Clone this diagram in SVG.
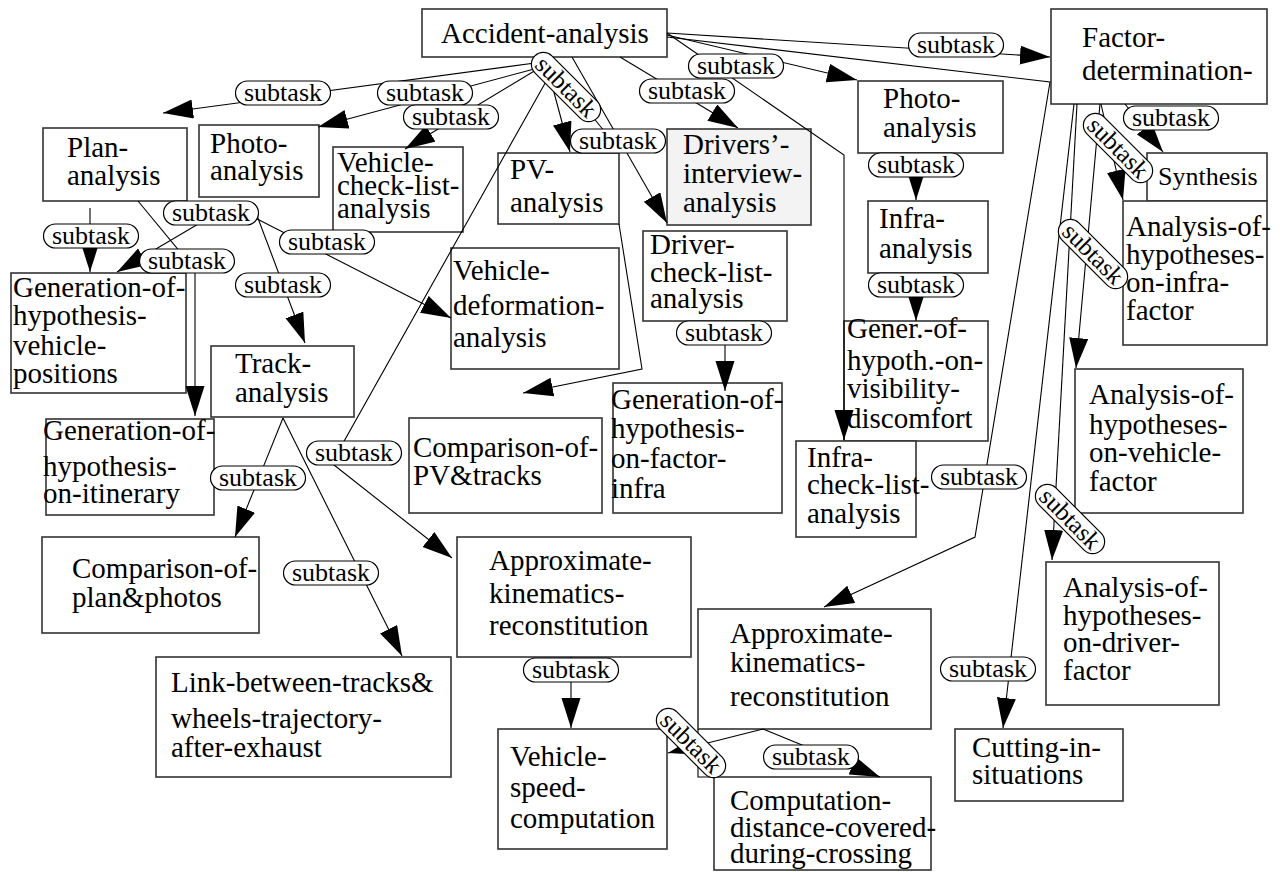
<svg xmlns="http://www.w3.org/2000/svg" width="1282" height="872" viewBox="0 0 1282 872">
<style>
.box{fill:#fff;stroke:#333;stroke-width:1.6}
.gray{fill:#f3f3f3}
.t{font-family:"Liberation Serif","Times New Roman",serif;font-size:29px;fill:#000}
.ts{font-size:26px}
.e{fill:none;stroke:#000;stroke-width:1.1;marker-end:url(#ah)}
.ln{fill:none;stroke:#000;stroke-width:1.1}
.pill{fill:#fff;stroke:#000;stroke-width:1.2}
.lt{font-family:"Liberation Serif","Times New Roman",serif;font-size:26px;text-anchor:middle;fill:#000}
.lr{font-size:25px}
</style>
<defs>
<marker id="ah" markerUnits="userSpaceOnUse" markerWidth="31" markerHeight="20" refX="30" refY="9.5" orient="auto">
<path d="M0,0 L30,9.5 L0,19 z" fill="#000"/>
</marker>
</defs>
<rect width="1282" height="872" fill="#fff"/>

<g id="n_accident"><rect class="box" x="422" y="9" width="245" height="48"/><text class="t" x="441" y="43">Accident-analysis</text></g>
<g id="n_factor"><rect class="box" x="1051" y="9" width="216" height="95"/><text class="t"><tspan x="1082" y="47">Factor-</tspan><tspan x="1082" y="80">determination-</tspan></text></g>
<g id="n_plan"><rect class="box" x="43" y="128" width="144" height="73"/><text class="t"><tspan x="67" y="157">Plan-</tspan><tspan x="67" y="185">analysis</tspan></text></g>
<g id="n_photo1"><rect class="box" x="199" y="125" width="120" height="72"/><text class="t"><tspan x="210" y="153">Photo-</tspan><tspan x="210" y="180">analysis</tspan></text></g>
<g id="n_vcl"><rect class="box" x="333" y="147" width="130" height="85"/><text class="t"><tspan x="337" y="172">Vehicle-</tspan><tspan x="337" y="195">check-list-</tspan><tspan x="337" y="218">analysis</tspan></text></g>
<g id="n_pv"><rect class="box" x="498" y="153" width="121" height="71"/><text class="t"><tspan x="510" y="179">PV-</tspan><tspan x="510" y="212">analysis</tspan></text></g>
<g id="n_drivers"><rect class="box gray" x="667" y="129" width="144" height="96"/><text class="t"><tspan x="683" y="154">Drivers’-</tspan><tspan x="683" y="183">interview-</tspan><tspan x="683" y="212">analysis</tspan></text></g>
<g id="n_dcl"><rect class="box" x="643" y="231" width="144" height="90"/><text class="t"><tspan x="650" y="254">Driver-</tspan><tspan x="650" y="282">check-list-</tspan><tspan x="650" y="308">analysis</tspan></text></g>
<g id="n_photo2"><rect class="box" x="858" y="81" width="145" height="72"/><text class="t"><tspan x="883" y="108">Photo-</tspan><tspan x="883" y="137">analysis</tspan></text></g>
<g id="n_infra"><rect class="box" x="868" y="201" width="120" height="72"/><text class="t"><tspan x="879" y="228">Infra-</tspan><tspan x="879" y="258">analysis</tspan></text></g>
<g id="n_gener"><rect class="box" x="844" y="321" width="144" height="120"/><text class="t"><tspan x="847" y="338">Gener.-of-</tspan><tspan x="847" y="370">hypoth.-on-</tspan><tspan x="847" y="398">visibility-</tspan><tspan x="847" y="428">discomfort</tspan></text></g>
<g id="n_icl"><rect class="box" x="796" y="441" width="120" height="96"/><text class="t"><tspan x="807" y="467">Infra-</tspan><tspan x="807" y="494">check-list-</tspan><tspan x="807" y="523">analysis</tspan></text></g>
<g id="n_synth"><rect class="box" x="1147" y="153" width="120" height="48"/><text class="t ts" x="1158" y="185">Synthesis</text></g>
<g id="n_ahinfra"><rect class="box" x="1123" y="201" width="144" height="144"/><text class="t"><tspan x="1126" y="236">Analysis-of-</tspan><tspan x="1126" y="264">hypotheses-</tspan><tspan x="1126" y="292">on-infra-</tspan><tspan x="1126" y="320">factor</tspan></text></g>
<g id="n_ahveh"><rect class="box" x="1075" y="369" width="168" height="144"/><text class="t"><tspan x="1089" y="404">Analysis-of-</tspan><tspan x="1089" y="434">hypotheses-</tspan><tspan x="1089" y="462">on-vehicle-</tspan><tspan x="1089" y="491">factor</tspan></text></g>
<g id="n_ahdrv"><rect class="box" x="1046" y="562" width="173" height="143"/><text class="t"><tspan x="1063" y="597">Analysis-of-</tspan><tspan x="1063" y="625">hypotheses-</tspan><tspan x="1063" y="652">on-driver-</tspan><tspan x="1063" y="680">factor</tspan></text></g>
<g id="n_cut"><rect class="box" x="955" y="729" width="168" height="72"/><text class="t"><tspan x="972" y="757">Cutting-in-</tspan><tspan x="972" y="784">situations</tspan></text></g>
<g id="n_akr2"><rect class="box" x="698" y="609" width="233" height="120"/><text class="t"><tspan x="730" y="643">Approximate-</tspan><tspan x="730" y="672">kinematics-</tspan><tspan x="730" y="706">reconstitution</tspan></text></g>
<g id="n_comp"><rect class="box" x="714" y="777" width="217" height="93"/><path class="ln" d="M698,729 V777 H714" stroke="#333" stroke-width="1.6"/><text class="t"><tspan x="730" y="810">Computation-</tspan><tspan x="730" y="837">distance-covered-</tspan><tspan x="730" y="863">during-crossing</tspan></text></g>
<g id="n_vsc"><rect class="box" x="498" y="729" width="169" height="120"/><text class="t"><tspan x="510" y="766">Vehicle-</tspan><tspan x="510" y="797">speed-</tspan><tspan x="510" y="828">computation</tspan></text></g>
<g id="n_akr1"><rect class="box" x="457" y="537" width="234" height="120"/><text class="t"><tspan x="489" y="570">Approximate-</tspan><tspan x="489" y="603">kinematics-</tspan><tspan x="489" y="635">reconstitution</tspan></text></g>
<g id="n_cmppv"><rect class="box" x="409" y="418" width="193" height="95"/><text class="t"><tspan x="413" y="457">Comparison-of-</tspan><tspan x="413" y="485">PV&amp;tracks</tspan></text></g>
<g id="n_gfi"><rect class="box" x="613" y="383" width="169" height="130"/><text class="t"><tspan x="611" y="409">Generation-of-</tspan><tspan x="611" y="438">hypothesis-</tspan><tspan x="611" y="468">on-factor-</tspan><tspan x="611" y="498">infra</tspan></text></g>
<g id="n_vda"><rect class="box" x="451" y="248" width="168" height="121"/><text class="t"><tspan x="453" y="280">Vehicle-</tspan><tspan x="453" y="315">deformation-</tspan><tspan x="453" y="347">analysis</tspan></text></g>
<g id="n_gvp"><rect class="box" x="11" y="273" width="175" height="120"/><text class="t"><tspan x="13" y="297">Generation-of-</tspan><tspan x="13" y="325">hypothesis-</tspan><tspan x="13" y="355">vehicle-</tspan><tspan x="13" y="383">positions</tspan></text></g>
<g id="n_gitin"><rect class="box" x="46" y="419" width="168" height="96"/><text class="t"><tspan x="43" y="440">Generation-of-</tspan><tspan x="43" y="476">hypothesis-</tspan><tspan x="43" y="503">on-itinerary</tspan></text></g>
<g id="n_track"><rect class="box" x="211" y="346" width="143" height="71"/><text class="t"><tspan x="235" y="373">Track-</tspan><tspan x="235" y="402">analysis</tspan></text></g>
<g id="n_cmpplan"><rect class="box" x="42" y="537" width="217" height="96"/><text class="t"><tspan x="72" y="578">Comparison-of-</tspan><tspan x="72" y="607">plan&amp;photos</tspan></text></g>
<g id="n_link"><rect class="box" x="156" y="657" width="295" height="120"/><text class="t"><tspan x="171" y="692">Link-between-tracks&amp;</tspan><tspan x="171" y="728">wheels-trajectory-</tspan><tspan x="171" y="757">after-exhaust</tspan></text></g>

<g id="connectors">
<path class="e" d="M535,63 L163,113"/>
<path class="e" d="M538,68 L318,127"/>
<path class="e" d="M536,70 L405,149"/>
<path class="e" d="M548,70 L570,152"/>
<path class="e" d="M548,78 L338,452 L334,465 L452,558"/>
<path class="e" d="M572,57 L667,223"/>
<path class="e" d="M544,57 L605,132 M619,224 L642,369 L523,393"/>
<path class="e" d="M620,57 L738,128"/>
<path class="e" d="M667,33 L844,155 L844,440"/>
<path class="e" d="M667,35 L857,80"/>
<path class="e" d="M667,33 L1050,57"/>
<path class="e" d="M667,37 L1050,82 L975,537 L824,607"/>
<path class="e" d="M1125,104 L1163,152"/>
<path class="e" d="M1101,104 L1123,200"/>
<path class="e" d="M1100,104 L1076,368"/>
<path class="e" d="M1077,104 L1052,560"/>
<path class="e" d="M1074,104 L1003,728"/>
<path class="e" d="M90,208 L90,272"/>
<path class="e" d="M138,201 L195,270 L195,416"/>
<path class="e" d="M205,220 L117,272"/>
<path class="e" d="M228,204 L451,318"/>
<path class="e" d="M253,205 L305,343"/>
<path class="e" d="M283,418 L235,537"/>
<path class="e" d="M283,418 L402,656"/>
<path class="e" d="M916,153 L916,200"/>
<path class="e" d="M916,273 L916,321"/>
<path class="e" d="M725,321 L725,391"/>
<path class="e" d="M571,657 L571,728"/>
<path class="e" d="M763,729 L668,753"/>
<path class="e" d="M763,729 L880,777"/>

<g transform="translate(283,93)"><rect class="pill" x="-47.5" y="-12" width="95" height="24" rx="12"/><text class="lt" y="8">subtask</text></g>
<g transform="translate(425,93)"><rect class="pill" x="-47.5" y="-12" width="95" height="24" rx="12"/><text class="lt" y="8">subtask</text></g>
<g transform="translate(451,117)"><rect class="pill" x="-47.5" y="-12" width="95" height="24" rx="12"/><text class="lt" y="8">subtask</text></g>
<g transform="translate(618,141)"><rect class="pill" x="-47.5" y="-12" width="95" height="24" rx="12"/><text class="lt" y="8">subtask</text></g>
<g transform="translate(687,91)"><rect class="pill" x="-47.5" y="-12" width="95" height="24" rx="12"/><text class="lt" y="8">subtask</text></g>
<g transform="translate(736,66)"><rect class="pill" x="-47.5" y="-12" width="95" height="24" rx="12"/><text class="lt" y="8">subtask</text></g>
<g transform="translate(956,45)"><rect class="pill" x="-47.5" y="-12" width="95" height="24" rx="12"/><text class="lt" y="8">subtask</text></g>
<g transform="translate(1171,118)"><rect class="pill" x="-47.5" y="-12" width="95" height="24" rx="12"/><text class="lt" y="8">subtask</text></g>
<g transform="translate(916,165)"><rect class="pill" x="-47.5" y="-12" width="95" height="24" rx="12"/><text class="lt" y="8">subtask</text></g>
<g transform="translate(916,285)"><rect class="pill" x="-47.5" y="-12" width="95" height="24" rx="12"/><text class="lt" y="8">subtask</text></g>
<g transform="translate(724,333)"><rect class="pill" x="-47.5" y="-12" width="95" height="24" rx="12"/><text class="lt" y="8">subtask</text></g>
<g transform="translate(91,236)"><rect class="pill" x="-47.5" y="-12" width="95" height="24" rx="12"/><text class="lt" y="8">subtask</text></g>
<g transform="translate(211,213)"><rect class="pill" x="-47.5" y="-12" width="95" height="24" rx="12"/><text class="lt" y="8">subtask</text></g>
<g transform="translate(187,261)"><rect class="pill" x="-47.5" y="-12" width="95" height="24" rx="12"/><text class="lt" y="8">subtask</text></g>
<g transform="translate(327,242)"><rect class="pill" x="-47.5" y="-12" width="95" height="24" rx="12"/><text class="lt" y="8">subtask</text></g>
<g transform="translate(283,285)"><rect class="pill" x="-47.5" y="-12" width="95" height="24" rx="12"/><text class="lt" y="8">subtask</text></g>
<g transform="translate(258,478)"><rect class="pill" x="-47.5" y="-12" width="95" height="24" rx="12"/><text class="lt" y="8">subtask</text></g>
<g transform="translate(331,573)"><rect class="pill" x="-47.5" y="-12" width="95" height="24" rx="12"/><text class="lt" y="8">subtask</text></g>
<g transform="translate(354,453)"><rect class="pill" x="-47.5" y="-12" width="95" height="24" rx="12"/><text class="lt" y="8">subtask</text></g>
<g transform="translate(571,670)"><rect class="pill" x="-47.5" y="-12" width="95" height="24" rx="12"/><text class="lt" y="8">subtask</text></g>
<g transform="translate(811,757)"><rect class="pill" x="-47.5" y="-12" width="95" height="24" rx="12"/><text class="lt" y="8">subtask</text></g>
<g transform="translate(979,477)"><rect class="pill" x="-47.5" y="-12" width="95" height="24" rx="12"/><text class="lt" y="8">subtask</text></g>
<g transform="translate(988,669)"><rect class="pill" x="-47.5" y="-12" width="95" height="24" rx="12"/><text class="lt" y="8">subtask</text></g>

<g transform="translate(566,87) rotate(45)"><rect class="pill" x="-44" y="-12" width="88" height="24" rx="12"/><text class="lt lr" y="8">subtask</text></g>
<g transform="translate(691,743) rotate(45)"><rect class="pill" x="-44" y="-12" width="88" height="24" rx="12"/><text class="lt lr" y="8">subtask</text></g>
<g transform="translate(1118,148) rotate(45)"><rect class="pill" x="-44" y="-12" width="88" height="24" rx="12"/><text class="lt lr" y="8">subtask</text></g>
<g transform="translate(1093,254) rotate(45)"><rect class="pill" x="-44" y="-12" width="88" height="24" rx="12"/><text class="lt lr" y="8">subtask</text></g>
<g transform="translate(1070,519) rotate(45)"><rect class="pill" x="-44" y="-12" width="88" height="24" rx="12"/><text class="lt lr" y="8">subtask</text></g>
</g>
</svg>
